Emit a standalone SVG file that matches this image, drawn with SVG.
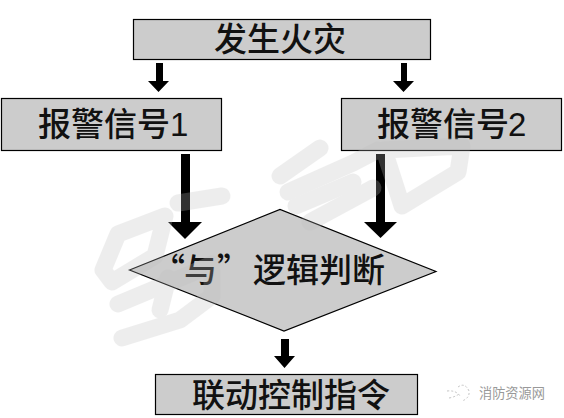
<svg xmlns="http://www.w3.org/2000/svg" width="564" height="418" viewBox="0 0 564 418">
<style>
.box{fill:#cccccc;stroke:#000;stroke-width:1.2}
.t{font-family:"Noto Sans CJK SC",sans-serif;font-size:33px;font-weight:500;fill:#111}
.d{font-family:"Liberation Sans",sans-serif;font-weight:400}
.arr{fill:#000}
.wm path{fill:none;stroke:#bebebe;stroke-width:17;stroke-linecap:round;stroke-linejoin:round}
</style>
<rect width="564" height="418" fill="#fff"/>
<g id="connectors">
<path class="arr" d="M156 63H163V81H169L158.500 92L148 81H156Z"/>
<path class="arr" d="M401 63H407V81H414L403.500 92L393 81H401Z"/>
<path class="arr" d="M181 154H190V222H202L185 239L168 222H181Z"/>
<path class="arr" d="M376 154H385V222H397L380.500 238L364 222H376Z"/>
<path class="arr" d="M281 339H289V356H295L284.500 368L274 356H281Z"/>
</g>
<g id="node-fire"><rect class="box" x="133.500" y="19.500" width="297" height="40"/>
<text class="t" x="214" y="51">发生火灾</text></g>
<g id="node-signal1"><rect class="box" x="1.500" y="98.500" width="220" height="52"/>
<text class="t" x="38" y="136">报警信号<tspan class="d" x="170">1</tspan></text></g>
<g id="node-signal2"><rect class="box" x="341.500" y="98.500" width="220" height="52"/>
<text class="t" x="377" y="136">报警信号<tspan class="d" x="508">2</tspan></text></g>
<g id="node-logic"><path class="box" d="M129.500 270L280 209.500L436 271.500L284 331Z"/>
<text class="t" y="282"><tspan x="152">“</tspan><tspan x="184">与</tspan><tspan x="217">”</tspan><tspan x="253">逻辑判断</tspan></text></g>
<g id="node-output"><rect class="box" x="155.500" y="374.500" width="262" height="40"/>
<text class="t" x="192" y="407">联动控制指令</text></g>
<g id="wechat-mark" fill="none" stroke="#c4c4c4" stroke-width="1" stroke-dasharray="2 2">
<path d="M447 391Q456 390 460 396M449 398Q455 397 459 394M458 387Q465 382 469 391Q470 398 462 401"/>
</g>
<text x="479" y="398" font-family="Noto Sans CJK SC,sans-serif" font-size="13.200" fill="#999">消防资源网</text>
<g class="wm" opacity=".26">
<path d="M178 203L222 196"/>
<path d="M103 270L118 234L165 216L155 256L112 282Z"/>
<path d="M118 304L190 274L212 264"/>
<path d="M122 338L180 320L212 296L212 272"/>
<path d="M168 278L160 310"/>
<path d="M280 176L320 148"/>
<path d="M288 192L353 163L378 150"/>
<path d="M296 206L353 182"/>
<path d="M310 222L373 188"/>
<path d="M384 150L462 146L458 172L402 206Z"/>
</g>
</svg>
